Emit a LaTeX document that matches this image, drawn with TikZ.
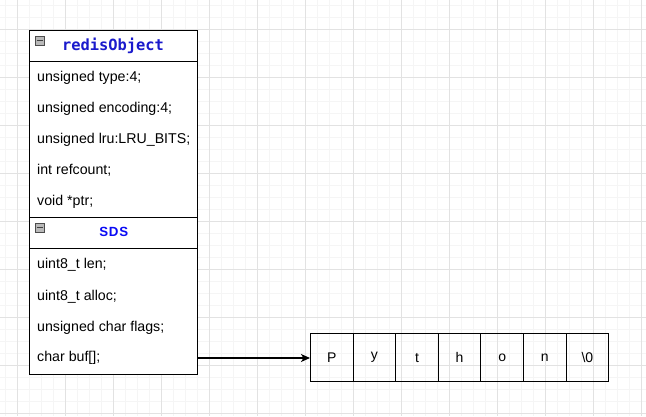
\documentclass[tikz,border=0pt]{standalone}
\usepackage{fontspec}
\setmainfont{Liberation Sans}
\newfontfamily\monobold{DejaVu Sans Mono}
\newfontfamily\sdsfont[LetterSpace=6]{Liberation Sans}
\usetikzlibrary{arrows.meta}
\definecolor{gridminor}{HTML}{F5F5F5}
\definecolor{gridmajor}{HTML}{E2E2E2}
\definecolor{hdrblue}{HTML}{1A1ACC}
\definecolor{sdsblue}{HTML}{0A0AF5}
\tikzset{
  minorline/.style={gridminor, line width=1pt},
  majorline/.style={gridmajor, line width=1pt},
  classbox/.style={draw=black, line width=1.1pt, rectangle, inner sep=0pt, anchor=north west},
  field/.style={anchor=west, inner sep=0pt, font=\fontsize{14.2}{16}\selectfont},
  cell/.style={draw=black, line width=1.1pt, rectangle, minimum width=42.6pt, minimum height=48pt, inner sep=0pt, font=\fontsize{14}{16}\selectfont},
  collapse/.style={draw=gray!60!black, fill=gray!55, line width=0.6pt, rectangle, minimum width=9pt, minimum height=9pt, inner sep=0pt},
}
\begin{document}
\begin{tikzpicture}[x=1pt,y=-1pt]
\useasboundingbox (0,0) rectangle (646,416);
\fill[white] (0,0) rectangle (646,416);
% grid
\foreach \i in {0,...,53} \draw[minorline] (5.5+12*\i,0) -- (5.5+12*\i,416);
\foreach \i in {0,...,34} \draw[minorline] (0,5.5+12*\i) -- (646,5.5+12*\i);
\foreach \i in {0,...,13} \draw[majorline] (17.5+48*\i,0) -- (17.5+48*\i,416);
\foreach \i in {0,...,8} \draw[majorline] (0,29.5+48*\i) -- (646,29.5+48*\i);

% redisObject box
\node[classbox, minimum width=168pt, minimum height=187pt, fill=white] (robj) at (29,30) {};
\draw[line width=1.1pt] (29,61.5) -- (197,61.5);
\node[collapse] (robjicon) at (39.5,40.5) {};
\draw[line width=1.2pt, black!75] (36.5,40.5) -- (42.5,40.5);
\node[font=\monobold\bfseries\fontsize{15.4}{17}\selectfont, text=hdrblue, inner sep=0pt] (robjtitle) at (113,46) {redisObject};
\node[field] (f1) at (37,77.5) {unsigned type:4;};
\node[field] (f2) at (37,108.5) {unsigned encoding:4;};
\node[field] (f3) at (37,139.5) {unsigned lru:LRU\_BITS;};
\node[field] (f4) at (37,170.5) {int refcount;};
\node[field] (f5) at (37,201.5) {void *ptr;};

% SDS box
\node[classbox, minimum width=168pt, minimum height=156.5pt, fill=white] (sds) at (29,217) {};
\draw[line width=1.1pt] (29,248.3) -- (197,248.3);
\node[collapse] (sdsicon) at (39.5,227.5) {};
\draw[line width=1.2pt, black!75] (36.5,227.5) -- (42.5,227.5);
\node[font=\sdsfont\bfseries\fontsize{13.3}{15}\selectfont, text=sdsblue, inner sep=0pt] (sdstitle) at (113.8,232) {SDS};
\node[field] (g1) at (37,265) {uint8\_t len;};
\node[field] (g2) at (37,296.3) {uint8\_t alloc;};
\node[field] (g3) at (37,327.5) {unsigned char flags;};
\node[field] (g4) at (37,358) {char buf[];};

% array
\foreach \c [count=\k from 0] in {P,y,t,h,o,n,\textbackslash 0}
  \node[cell] (c\k) at (331.8+42.6*\k,357.6) {\c};

% arrow
\draw[line width=1.1pt, -{Stealth[length=9pt,width=8pt,inset=2.5pt]}] (sds.east |- g4) -- (c0.west |- g4);
\end{tikzpicture}
\end{document}
